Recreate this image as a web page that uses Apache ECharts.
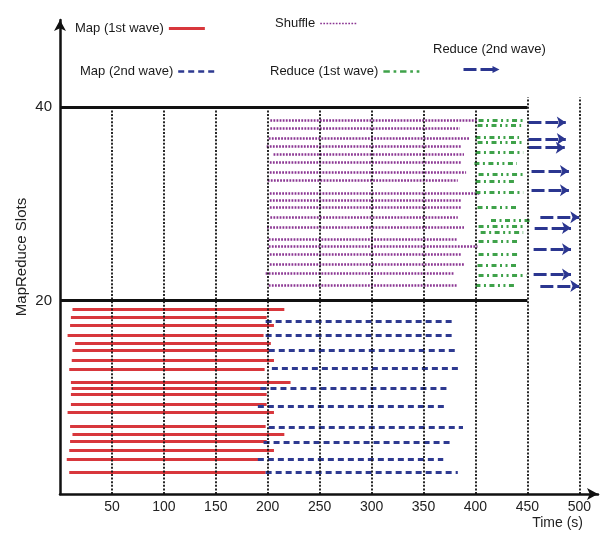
<!DOCTYPE html>
<html><head><meta charset="utf-8">
<script src="https://cdn.jsdelivr.net/npm/echarts@6/dist/echarts.min.js"></script>
<style>html,body{margin:0;padding:0;background:#fff}#c{width:605px;height:536px}</style>
</head><body><div id="c"></div>
<script>
// ---- axis ticks ----
const xTicks = [50, 100, 150, 200, 250, 300, 350, 400, 450, 500];
const xGridTop = [40, 40, 40, 40, 40, 40, 40, 40, 41, 41];
const yTicks = [20, 40];
const boundaryEnd = 450;

// ---- Map (1st wave) ----
const map1Slots = [19.1, 18.3, 17.4, 16.4, 15.6, 14.9, 13.8, 12.9, 11.6, 10.9, 10.3, 9.3, 8.4, 7.0, 6.2, 5.5, 4.5, 3.6, 2.2];
const map1Start = [12, 10.5, 9.7, 7.3, 14.5, 12, 11.3, 8.9, 10.5, 11.3, 10.5, 10.5, 7.3, 9.7, 12, 9.7, 8.9, 6.5, 8.9];
const map1End   = [216, 199, 206, 196, 203, 203, 206, 197, 222, 199, 199, 199, 206, 198, 216, 199, 206, 194, 198];

// ---- Map (2nd wave) ----
const map2Slots = [17.9, 16.4, 14.9, 13.0, 10.9, 9.1, 6.9, 5.4, 3.6, 2.2];
const map2Start = [198, 198, 201, 204, 193, 190.5, 201, 196, 190.5, 198];
const map2End   = [380, 380, 381, 386, 375, 372, 388, 377, 369, 383];

// ---- Shuffle ----
const shufSlots = [38.6, 37.8, 36.8, 36.0, 35.1, 34.3, 33.3, 32.4, 31.1, 30.4, 29.6, 28.6, 27.6, 26.3, 25.6, 24.8, 23.7, 22.8, 21.6];
const shufStart = [202.5, 202.5, 201, 199, 205.6, 202, 202, 200, 202, 202, 202, 202.5, 199.3, 201, 201, 202, 202, 198, 201];
const shufEnd   = [402, 385, 394, 386, 389, 386, 391, 383, 404, 386, 386, 383, 389, 383, 402, 386, 389, 380, 383];

// ---- Reduce (1st wave) ----
const red1Slots = [38.6, 38.1, 36.9, 36.4, 35.3, 34.2, 33.1, 32.3, 31.2, 29.6, 28.3, 27.7, 27.1, 26.1, 24.8, 23.6, 22.6, 21.6];
const red1Start = [403, 402, 400, 402, 400, 399, 403, 400, 400, 402, 415, 403, 405, 403, 403, 402, 403, 400];
const red1End   = [446, 444, 442, 446, 446, 440, 446, 440, 446, 440, 453, 447, 446, 440, 442, 440, 449, 440];

// ---- Reduce (2nd wave) ----
const red2Slots = [38.4, 36.7, 35.8, 33.4, 31.4, 28.6, 27.5, 25.3, 22.7, 21.5];
const red2Start = [451, 451, 451, 454, 454, 462.5, 457, 456, 456, 462.5];
const red2End   = [487, 487, 486, 490, 490, 500, 492, 492, 492, 500];

const FONT = "'Liberation Sans', Arial, sans-serif";
const C_RED = '#d8373c', C_BLUE = '#2e3a91', C_PURPLE = '#8a3592', C_GREEN = '#3fa24a', C_NAVY = '#2b3690';

function segs(slots, starts, ends) {
  return slots.map((s, i) => ({ coords: [[starts[i], s], [ends[i], s]] }));
}
function segSeries(name, slots, starts, ends, color, width, type, extra) {
  return Object.assign({
    name, type: 'lines', coordinateSystem: 'cartesian2d', z: 3,
    lineStyle: { color, width, type, opacity: 1, cap: 'butt' },
    data: segs(slots, starts, ends), silent: true
  }, extra || {});
}

const gridLines = xTicks.map((t, i) => ({ coords: [[t, 0], [t, xGridTop[i]]] }));
const boundaryLines = yTicks.map(v => ({ coords: [[0, v], [boundaryEnd, v]] }));

function legendBox(name, icon, color, left, top, w, h, extra) {
  return Object.assign({
    data: [{ name, icon, itemStyle: { color, borderWidth: 0 } }],
    left, top, align: 'right', orient: 'horizontal', selectedMode: false,
    itemWidth: w, itemHeight: h, padding: 0,
    textStyle: { fontFamily: FONT, fontSize: 13, color: '#1a1a1a' }
  }, extra || {});
}

const chart = echarts.init(document.getElementById('c'), null, { renderer: 'canvas' });
chart.setOption({
  animation: false,
  backgroundColor: '#fff',
  grid: { left: 60, right: 7, top: 20, bottom: 42, containLabel: false, outerBoundsMode: 'none' },
  xAxis: {
    type: 'value', min: 0, max: 518, interval: 50,
    axisLine: { show: true, symbol: ['none', 'arrow'], symbolSize: [9, 11], lineStyle: { color: '#111', width: 2.5 } },
    axisTick: { show: false }, splitLine: { show: false },
    axisLabel: { color: '#222', fontSize: 14, fontFamily: FONT, margin: 6,
      formatter: v => (xTicks.indexOf(v) >= 0 ? String(v) : '') }
  },
  yAxis: {
    type: 'value', min: 0, max: 49, interval: 20,
    axisLine: { show: true, symbol: ['none', 'arrow'], symbolSize: [9, 11], lineStyle: { color: '#111', width: 2.5 } },
    axisTick: { show: false }, splitLine: { show: false },
    axisLabel: { color: '#222', fontSize: 15, fontFamily: FONT, margin: 8,
      formatter: v => (yTicks.indexOf(v) >= 0 ? String(v) : '') },
    name: 'MapReduce Slots', nameLocation: 'middle', nameGap: 31, nameRotate: 90, nameMoveOverlap: false,
    nameTextStyle: { fontSize: 15, fontFamily: FONT, color: '#222' }
  },
  graphic: [{
    type: 'text', right: 22, top: 516,
    style: { text: 'Time (s)', fontSize: 14, fontFamily: FONT, fill: '#222' }
  }],
  legend: [
    legendBox('Map (1st wave)', 'rect', C_RED, 75, 22, 36, 3),
    legendBox('Shuffle', 'path://M0,0h1.6v1.6h-1.6z M3,0h1.6v1.6h-1.6z M6,0h1.6v1.6h-1.6z M9,0h1.6v1.6h-1.6z M12,0h1.6v1.6h-1.6z M15,0h1.6v1.6h-1.6z M18,0h1.6v1.6h-1.6z M21,0h1.6v1.6h-1.6z M24,0h1.6v1.6h-1.6z M27,0h1.6v1.6h-1.6z M30,0h1.6v1.6h-1.6z M33,0h1.6v1.6h-1.6z', C_PURPLE, 275, 17, 36, 3),
    legendBox('Map (2nd wave)', 'path://M0,0h6v2.5h-6z M10,0h6v2.5h-6z M20,0h6v2.5h-6z M30,0h6v2.5h-6z', C_BLUE, 80, 65, 36, 3),
    legendBox('Reduce (1st wave)', 'path://M0,0h6v2.5h-6z M9.5,0h2.5v2.5h-2.5z M15.5,0h6v2.5h-6z M25,0h2.5v2.5h-2.5z M31,0h2.5v2.5h-2.5z', C_GREEN, 270, 65, 36, 3),
    legendBox('Reduce (2nd wave)', 'rect', C_NAVY, 433, 43, 0, 0),
    legendBox('Reduce (2nd wave)', 'path://M0,2h13v3h-13z M17,2h12v3h-12z M29,0l7,3.5l-7,3.5z', C_NAVY, 463, 66, 37, 7, { formatter: () => '' })
  ],
  series: [
    segSeries('Map (1st wave)', map1Slots, map1Start, map1End, C_RED, 3, 'solid'),
    segSeries('Map (2nd wave)', map2Slots, map2Start, map2End, C_BLUE, 3, [6, 4]),
    segSeries('Shuffle', shufSlots, shufStart, shufEnd, C_PURPLE, 2.5, [1.8, 1.3]),
    segSeries('Reduce (1st wave)', red1Slots, red1Start, red1End, C_GREEN, 3, [5, 3.5, 2, 3.5, 5, 3.5, 2, 3.5, 2, 3.5]),
    segSeries('Reduce (2nd wave)', red2Slots, red2Start, red2End, C_NAVY, 3, [13, 4],
      { symbol: ['none', 'arrow'], symbolSize: 9 }),
    { name: 'grid', type: 'lines', coordinateSystem: 'cartesian2d', z: 5, silent: true,
      lineStyle: { color: '#111', width: 1.8, type: [2, 1.6], opacity: 1 }, data: gridLines },
    { name: 'bounds', type: 'lines', coordinateSystem: 'cartesian2d', z: 6, silent: true,
      lineStyle: { color: '#111', width: 3, type: 'solid', opacity: 1 }, data: boundaryLines }
  ]
});
</script></body></html>
